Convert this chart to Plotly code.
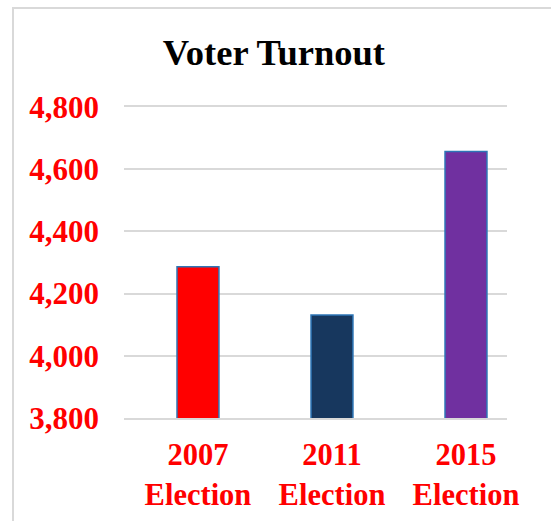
import plotly.graph_objects as go

# Turnout per election (thousands of voters)
elections = ["2007<br>Election", "2011<br>Election", "2015<br>Election"]
turnout = [4286, 4131, 4657]
bar_colors = ["#ff0000", "#17375e", "#7030a0"]
y_ticks = [3800, 4000, 4200, 4400, 4600, 4800]

serif = "Liberation Serif, Times New Roman, serif"
grid = "#d9d9d9"

fig = go.Figure(
    go.Bar(
        x=[0, 1, 2],
        y=turnout,
        width=0.313,
        marker=dict(color=bar_colors, line=dict(color="#2e75b6", width=1.5)),
    )
)

fig.update_layout(
    width=551,
    height=521,
    margin=dict(l=124, r=44, t=107, b=103, autoexpand=False),
    paper_bgcolor="white",
    plot_bgcolor="white",
    showlegend=False,
    title=dict(
        text="<b>Voter Turnout</b>",
        font=dict(family=serif, size=36.5, color="black"),
        x=0.497,
        xanchor="center",
        y=1 - 52 / 521,
        yanchor="middle",
    ),
    xaxis=dict(
        range=[-0.552, 2.306],
        tickvals=[0, 1, 2],
        ticktext=[f"<b>{t.replace('<br>', '</b><br><b>')}</b>" for t in elections],
        tickfont=dict(family=serif, size=30.5, color="#ff0000"),
        showgrid=False,
        zeroline=False,
        showline=True,
        mirror=True,
        linecolor=grid,
        linewidth=1.5,
        ticks="",
        ticklabelstandoff=9,
        automargin=False,
        fixedrange=True,
    ),
    yaxis=dict(
        range=[3800, 4800],
        tickvals=y_ticks,
        ticktext=[f"<b>{v:,}</b>" for v in y_ticks],
        tickfont=dict(family=serif, size=31, color="#ff0000"),
        showgrid=True,
        gridcolor=grid,
        gridwidth=1.5,
        zeroline=False,
        showline=False,
        ticks="",
        ticklabelstandoff=24,
        automargin=False,
        fixedrange=True,
    ),
    shapes=[
        dict(
            type="rect",
            xref="paper",
            yref="paper",
            x0=(13 - 124) / 383,
            x1=(570 - 124) / 383,
            y0=-(540 - 418) / 311,
            y1=1 + (107 - 8) / 311,
            line=dict(color=grid, width=2),
            fillcolor="rgba(0,0,0,0)",
            layer="below",
        )
    ],
)

fig.write_html("out.html")
